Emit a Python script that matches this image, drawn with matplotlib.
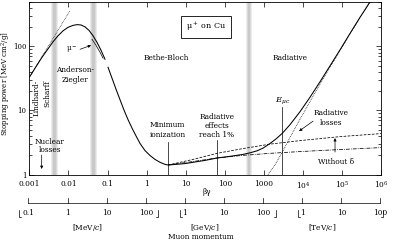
import matplotlib
matplotlib.use('Agg')
import matplotlib.pyplot as plt
import matplotlib.transforms as mtransforms
from matplotlib.ticker import FixedLocator, NullLocator, LogLocator, NullFormatter

plt.rcParams['font.family'] = 'DejaVu Serif'
plt.rcParams['mathtext.fontset'] = 'dejavuserif'
plt.rcParams['font.size'] = 5.3

# total stopping power of mu+ in copper
bg_lo = [0.00104, 0.00148, 0.00211, 0.00301, 0.00403, 0.00541, 0.00726, 0.00975,
         0.0131, 0.0166, 0.0210, 0.0265, 0.0336, 0.0425, 0.0538, 0.0681, 0.0861]
sp_lo = [34.1, 48.0, 67.4, 91.4, 117.5, 145.7, 174.2, 197.6,
         212.2, 217.7, 215.3, 201, 177, 146, 115, 86.6, 62.8]

bg_hi = [0.1028, 0.130, 0.1645, 0.208, 0.2635, 0.3336, 0.422, 0.534, 0.676, 0.907,
         1.217, 1.633, 2.19, 2.94, 3.51, 9.55, 31.0, 62.8, 135, 291, 439, 662, 944,
         1424, 2028, 2884, 4620, 8320, 15000, 27000, 48700, 87700, 1.58e5, 2.84e5, 5.12e5]
sp_hi = [47.1, 31.8, 21.4, 14.7, 10.1, 7.18, 5.29, 4.0, 3.05, 2.36,
         1.98, 1.72, 1.55, 1.44, 1.406, 1.48, 1.66, 1.81, 1.92, 2.06, 2.18, 2.34, 2.58,
         3.05, 3.6, 4.35, 6.0, 9.56, 16.1, 28.0, 49.7, 88.2, 159, 283, 493]

# mu- (short piece below the mu+ curve)
bg_mum = [0.0401, 0.0507, 0.0642, 0.077]
sp_mum = [128.5, 103.6, 80.7, 65.0]

# Lindhard-Scharff extension
bg_lind = [0.001, 0.011]
sp_lind = [32.8, 361]

# ionization with density effect (dash-dot) and without delta (dashed)
bg_ion = [3.51, 15.3, 62.8, 291, 1424, 8320, 87700, 1e6]
sp_ion = [1.406, 1.594, 1.81, 1.99, 2.14, 2.28, 2.45, 2.63]
sp_nodelta = [1.406, 1.72, 2.14, 2.54, 2.98, 3.38, 3.90, 4.35]

# radiative losses (dotted)
bg_rad = [1265, 1910, 2884, 4620, 8320, 15000, 27000, 48700, 87700, 1.58e5, 2.84e5, 5.12e5]
sp_rad = [1.0, 1.42, 2.19, 3.8, 7.3, 13.8, 25.7, 47.4, 86, 157, 281, 493]

bands = [0.0044, 0.0433, 413]
bg_minion = 3.51
bg_onepct = 62.8
bg_emuc = 2884

xticks = [1e-3, 1e-2, 1e-1, 1, 10, 100, 1000, 1e4, 1e5, 1e6]
xticklabels = ['0.001', '0.01', '0.1', '1', '10', '100', '1000',
               '10$^4$', '10$^5$', '10$^6$']

mu_mass = 105.66  # MeV/c
mom_ticks = [0.1, 1, 10, 100, 1e3, 1e4, 1e5, 1e6, 1e7, 1e8]  # MeV/c
mom_labels = ['0.1', '1', '10', '100', '1', '10', '100', '1', '10', '100']
mom_groups = ['[MeV/$c$]', '[GeV/$c$]', '[TeV/$c$]']
group_lo = [0.058, 750, 7.7e5]
group_hi = [210, 2.14e5, 1.18e8]
group_mid = [3.16, 3162, 3.16e6]

fig = plt.figure(figsize=(3.93, 2.42), dpi=100)
ax = fig.add_axes([0.0746, 0.2789, 0.8959, 0.7149])
ax.set_xscale('log')
ax.set_yscale('log')
ax.set_xlim(1e-3, 1e6)
ax.set_ylim(1, 500)

# shaded boundaries between regions
for c in bands:
    for hw in [0.085, 0.06, 0.035]:
        ax.axvspan(c / 10**hw, c * 10**hw, color='k', alpha=0.075, lw=0, zorder=0)

lw = 0.75
ax.plot(bg_lo, sp_lo, color='k', lw=lw)
ax.plot(bg_hi, sp_hi, color='k', lw=lw)
ax.plot(bg_mum, sp_mum, color='k', lw=0.5)
ax.plot(bg_lind, sp_lind, color='k', lw=0.5, ls=(0, (1, 1.3)))
ax.plot(bg_ion, sp_ion, color='k', lw=0.55, ls=(0, (5, 1.5, 1, 1.5)))
ax.plot(bg_ion, sp_nodelta, color='k', lw=0.55, ls=(0, (3.5, 1.8)))
ax.plot(bg_rad, sp_rad, color='k', lw=0.55, ls=(0, (1, 1.3)))

ax.plot([bg_minion, bg_minion], [1, 3.24], color='k', lw=0.5)
ax.plot([bg_onepct, bg_onepct], [1, 3.44], color='k', lw=0.5)
ax.plot([bg_emuc, bg_emuc], [1, 11.4], color='k', lw=0.5)

# labels
ax.text(32.9, 198, 'μ$^+$ on Cu', ha='center', va='center', fontsize=5.8,
        bbox=dict(boxstyle='square,pad=0.6', fc='white', ec='k', lw=0.6))
ax.text(3.12, 65, 'Bethe-Bloch', ha='center', va='center')
ax.text(4610, 65, 'Radiative', ha='center', va='center')
ax.text(0.0147, 42.3, 'Anderson-', ha='center', va='center')
ax.text(0.0147, 29.6, 'Ziegler', ha='center', va='center')
ax.text(0.00157, 29.6, 'Lindhard-', rotation=90, ha='center', va='top')
ax.text(0.00283, 29.6, 'Scharff', rotation=90, ha='center', va='top')
ax.text(0.0121, 89.8, 'μ$^-$', ha='center', va='center')
ax.annotate('', xy=(0.0379, 103.6), xytext=(0.0198, 89.8),
            arrowprops=dict(arrowstyle='-|>', lw=0.5, color='k',
                            mutation_scale=4, shrinkA=0, shrinkB=0))
ax.text(3.41, 5.89, 'Minimum', ha='center', va='center')
ax.text(3.41, 4.12, 'ionization', ha='center', va='center')
ax.text(62.8, 7.99, 'Radiative', ha='center', va='center')
ax.text(62.8, 5.79, 'effects', ha='center', va='center')
ax.text(62.8, 4.12, 'reach 1%', ha='center', va='center')
ax.text(3055, 14.4, '$E_{\\mu c}$', ha='center', va='center', fontsize=6)
ax.text(5.15e4, 9.06, 'Radiative', ha='center', va='center')
ax.text(5.15e4, 6.33, 'losses', ha='center', va='center')
ax.annotate('', xy=(7860, 4.75), xytext=(1.79e4, 6.80),
            arrowprops=dict(arrowstyle='-|>', lw=0.5, color='k',
                            mutation_scale=4, shrinkA=0, shrinkB=0))
ax.text(6.92e4, 1.566, 'Without δ', ha='center', va='center')
ax.annotate('', xy=(6.52e4, 3.70), xytext=(6.52e4, 2.24),
            arrowprops=dict(arrowstyle='-|>', lw=0.5, color='k',
                            mutation_scale=4, shrinkA=0, shrinkB=0))
ax.text(0.00338, 3.24, 'Nuclear', ha='center', va='center')
ax.text(0.00338, 2.40, 'losses', ha='center', va='center')
ax.annotate('', xy=(0.00207, 1.22), xytext=(0.00207, 2.01),
            arrowprops=dict(arrowstyle='-|>', lw=0.5, color='k',
                            mutation_scale=4, shrinkA=0, shrinkB=0))

# axes styling
ax.xaxis.set_major_locator(FixedLocator(xticks))
ax.set_xticklabels(xticklabels)
ax.xaxis.set_minor_locator(NullLocator())
ax.yaxis.set_major_locator(FixedLocator([1, 10, 100]))
ax.set_yticklabels(['1', '10', '100'])
ax.yaxis.set_minor_locator(LogLocator(base=10, subs=range(2, 10)))
ax.yaxis.set_minor_formatter(NullFormatter())
ax.tick_params(which='both', direction='in', top=True, right=True, width=0.5)
ax.tick_params(which='major', length=3.5)
ax.tick_params(which='minor', length=2)
ax.tick_params(axis='x', pad=4)
ax.tick_params(axis='y', pad=2, labelsize=5)
for s in ax.spines.values():
    s.set_linewidth(0.6)
ax.set_ylabel('Stopping power [MeV cm$^2$/g]', fontsize=5.0)
ax.yaxis.set_label_coords(-0.047, 0.525)

# muon momentum scale below the beta-gamma axis
tr = mtransforms.blended_transform_factory(ax.transData, ax.transAxes)
ax.text(34.9, -0.101, 'βγ', transform=tr, ha='center', va='center')
mom_bg = [p / mu_mass for p in mom_ticks]
ax.plot([mom_bg[0], mom_bg[-1]], [-0.165, -0.165], transform=tr, color='k',
        lw=0.5, clip_on=False)
for b, lab in zip(mom_bg, mom_labels):
    ax.plot([b, b], [-0.165, -0.134], transform=tr, color='k', lw=0.5, clip_on=False)
    ax.text(b, -0.2225, lab, transform=tr, ha='center', va='center')
foot = 10**0.06
for name, lo, hi, mid in zip(mom_groups, group_lo, group_hi, group_mid):
    blo, bhi = lo / mu_mass, hi / mu_mass
    ax.plot([blo * foot, blo, blo], [-0.246, -0.246, -0.205], transform=tr,
            color='k', lw=0.5, clip_on=False)
    ax.plot([bhi / foot, bhi, bhi], [-0.246, -0.246, -0.205], transform=tr,
            color='k', lw=0.5, clip_on=False)
    ax.text(mid / mu_mass, -0.309, name, transform=tr, ha='center', va='center')
ax.text(24.5, -0.361, 'Muon momentum', transform=tr, ha='center', va='center')

fig.savefig('out.png', dpi=100)
